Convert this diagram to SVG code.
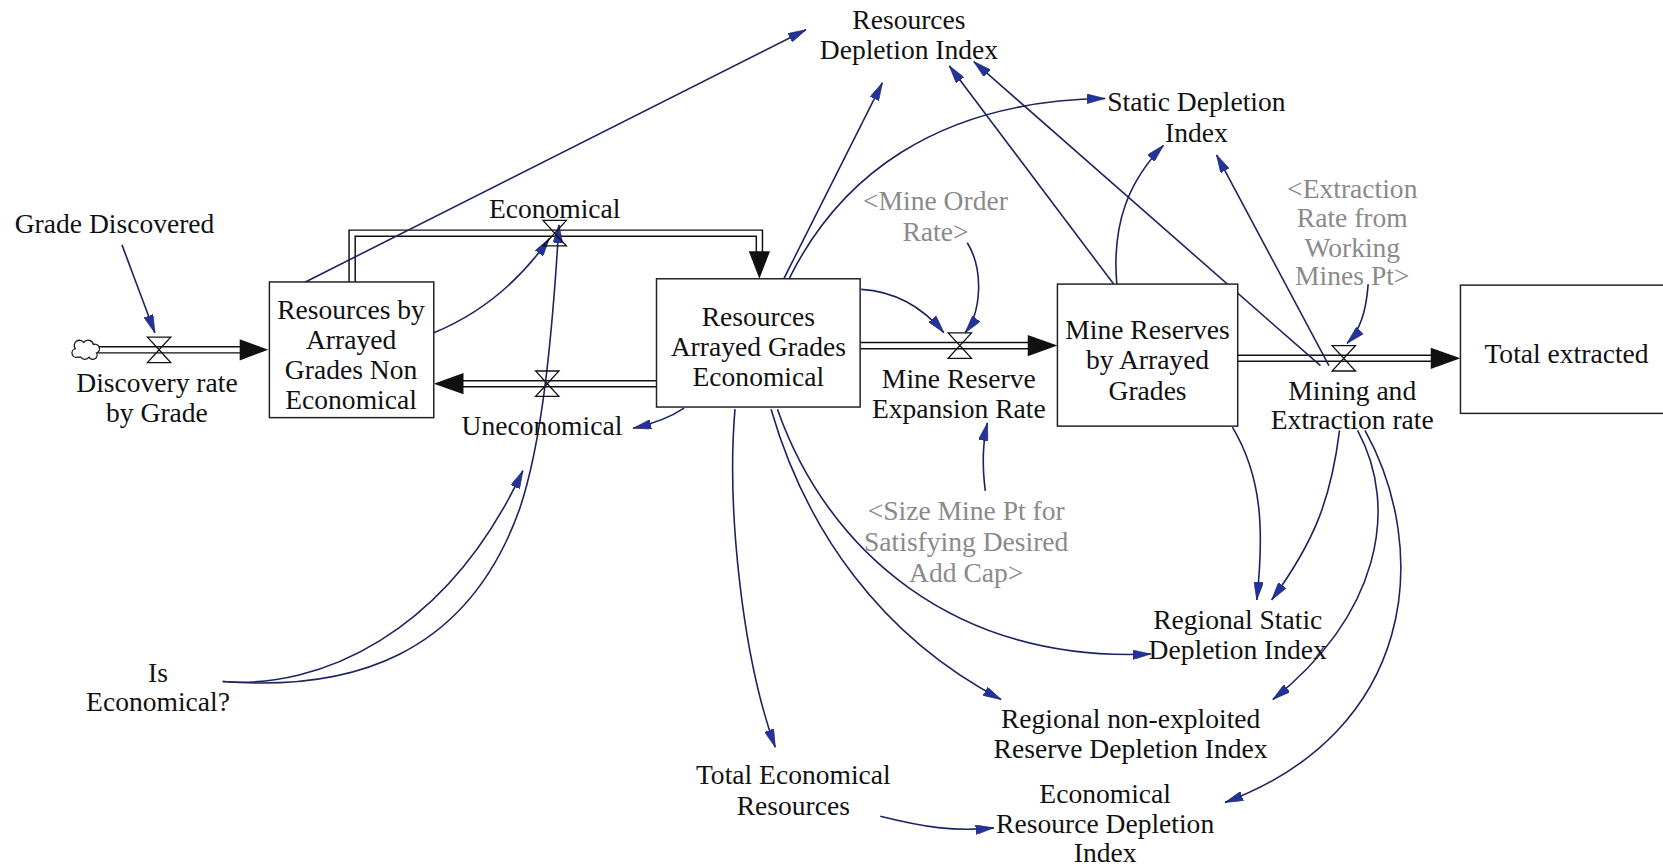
<svg xmlns="http://www.w3.org/2000/svg" width="1663" height="866" viewBox="0 0 1663 866">
<style>
.t{font-family:"Liberation Serif","Times New Roman",serif;font-size:26px;fill:#111;text-anchor:middle}
.g{fill:#8a8a8a}
.box{fill:#fff;stroke:#222;stroke-width:1.4}
.link{fill:none;stroke:#1b2461;stroke-width:1.5;marker-end:url(#ah)}
.po{fill:none;stroke:#111;stroke-width:7.2;stroke-linejoin:miter}
.pi{fill:none;stroke:#fff;stroke-width:4.4;stroke-linejoin:miter}
.fa{fill:#111}
.valve{fill:none;stroke:#111;stroke-width:1.2}
</style>
<defs>
<marker id="ah" markerUnits="userSpaceOnUse" viewBox="0 0 17 9" markerWidth="17" markerHeight="9" refX="17" refY="4.5" orient="auto">
<path d="M0 0 L17 4.5 L0 9 z" fill="#24339c" stroke="#1b2461" stroke-width="0.6"/>
</marker>
</defs>
<rect width="1663" height="866" fill="#fff"/>
<g transform="scale(1.0606,1.06)">
<g id="connectors">
<path class="po" d="M92 330 L227 330"/><path class="pi" d="M92 330 L228 330"/>
<polygon class="fa" points="226,320 253,330 226,340"/>
<path class="po" d="M332 266 L332 220 L716 220 L716 238"/><path class="pi" d="M332 266 L332 220 L716 220 L716 239"/>
<polygon class="fa" points="706,237 726,237 716,263"/>
<path class="po" d="M619 362 L436 362"/><path class="pi" d="M619 362 L435 362"/>
<polygon class="fa" points="437,352 409,362 437,372"/>
<path class="po" d="M811 326 L970 326"/><path class="pi" d="M811 326 L971 326"/>
<polygon class="fa" points="969,316 997,326 969,336"/>
<path class="po" d="M1167 338 L1350 338"/><path class="pi" d="M1167 338 L1351 338"/>
<polygon class="fa" points="1349,328 1377,338 1349,348"/>
<path class="link" d="M115 231 L146 314"/>
<path class="link" d="M280 270 L760 28"/>
<path class="link" d="M409 314 C455 295 490 265 518 225"/>
<path class="link" d="M210 643 C330 652 440 620 490 480 C510 420 520 330 527 212"/>
<path class="link" d="M210 643 C300 650 420 600 493 444"/>
<path class="link" d="M645 385 C630 395 615 400 597 404"/>
<path class="link" d="M739 263 L832 78"/>
<path class="link" d="M744 263 C790 170 880 95 1042 93"/>
<path class="link" d="M812 273 C845 275 870 290 890 314"/>
<path class="link" d="M912 229 C928 255 925 295 910 314"/>
<path class="link" d="M929 463 C926 440 926 420 931 399"/>
<path class="link" d="M693 386 C685 480 700 620 731 705"/>
<path class="link" d="M727 386 C760 500 830 600 944 660"/>
<path class="link" d="M733 386 C780 520 900 625 1085 617"/>
<path class="link" d="M830 770 C870 780 900 785 937 781"/>
<path class="link" d="M1050 268 L895 62"/>
<path class="link" d="M1053 268 C1048 210 1065 170 1097 137"/>
<path class="link" d="M1253 345 L1147 146"/>
<path class="link" d="M1245 345 L918 58"/>
<path class="link" d="M1290 268 C1288 295 1282 312 1270 324"/>
<path class="link" d="M1162 403 C1190 450 1192 500 1185 566"/>
<path class="link" d="M1263 406 C1255 470 1240 510 1199 566"/>
<path class="link" d="M1280 406 C1320 480 1300 580 1200 660"/>
<path class="link" d="M1287 406 C1350 520 1335 690 1155 757"/>
</g>
<g id="cloud"><path d="M73 337 a4 4 0 0 1 -2 -8 a5 5 0 0 1 8 -6 a5 5 0 0 1 9 2 a4 4 0 0 1 3 8 a4 4 0 0 1 -7 4 a5 5 0 0 1 -8 0 z" fill="#fff" stroke="#111" stroke-width="1.2"/></g>
<g id="discovery-rate"><path class="valve" d="M139 318 L161 318 L150 330 Z M139 342 L161 342 L150 330 Z"/><text class="t" x="148" y="370">Discovery rate</text><text class="t" x="148" y="398">by Grade</text></g>
<g id="economical-flow"><path class="valve" d="M512 208 L534 208 L523 220 Z M512 232 L534 232 L523 220 Z"/><text class="t" x="523" y="206">Economical</text></g>
<g id="uneconomical-flow"><path class="valve" d="M505 350 L527 350 L516 362 Z M505 374 L527 374 L516 362 Z"/><text class="t" x="511" y="410">Uneconomical</text></g>
<g id="expansion-rate"><path class="valve" d="M894 314 L916 314 L905 326 Z M894 338 L916 338 L905 326 Z"/><text class="t" x="904" y="366">Mine Reserve</text><text class="t" x="904" y="394">Expansion Rate</text></g>
<g id="mining-rate"><path class="valve" d="M1256 326 L1278 326 L1267 338 Z M1256 350 L1278 350 L1267 338 Z"/><text class="t" x="1275" y="377">Mining and</text><text class="t" x="1275" y="405">Extraction rate</text></g>
<g id="res-non-econ"><rect class="box" x="254" y="266" width="155" height="128"/><text class="t" x="331" y="301">Resources by</text><text class="t" x="331" y="329">Arrayed</text><text class="t" x="331" y="358">Grades Non</text><text class="t" x="331" y="386">Economical</text></g>
<g id="res-econ"><rect class="box" x="619" y="263" width="192" height="121"/><text class="t" x="715" y="308">Resources</text><text class="t" x="715" y="336">Arrayed Grades</text><text class="t" x="715" y="364">Economical</text></g>
<g id="mine-reserves"><rect class="box" x="997" y="268" width="170" height="134"/><text class="t" x="1082" y="320">Mine Reserves</text><text class="t" x="1082" y="348">by Arrayed</text><text class="t" x="1082" y="377">Grades</text></g>
<g id="total-extracted"><rect class="box" x="1377" y="269" width="230" height="121"/><text class="t" x="1477" y="342">Total extracted</text></g>
<g id="res-depletion"><text class="t" x="857" y="27">Resources</text><text class="t" x="857" y="56">Depletion Index</text></g>
<g id="static-depletion"><text class="t" x="1128" y="105">Static Depletion</text><text class="t" x="1128" y="134">Index</text></g>
<g id="grade-discovered"><text class="t" x="108" y="220">Grade Discovered</text></g>
<g id="mine-order-rate"><text class="t g" x="882" y="198">&lt;Mine Order</text><text class="t g" x="882" y="227">Rate&gt;</text></g>
<g id="extraction-rate-wm"><text class="t g" x="1275" y="187">&lt;Extraction</text><text class="t g" x="1275" y="214">Rate from</text><text class="t g" x="1275" y="242">Working</text><text class="t g" x="1275" y="269">Mines Pt&gt;</text></g>
<g id="size-mine"><text class="t g" x="911" y="491">&lt;Size Mine Pt for</text><text class="t g" x="911" y="520">Satisfying Desired</text><text class="t g" x="911" y="549">Add Cap&gt;</text></g>
<g id="regional-static"><text class="t" x="1167" y="593">Regional Static</text><text class="t" x="1167" y="622">Depletion Index</text></g>
<g id="is-economical"><text class="t" x="149" y="643">Is</text><text class="t" x="149" y="671">Economical?</text></g>
<g id="regional-nonexploited"><text class="t" x="1066" y="687">Regional non-exploited</text><text class="t" x="1066" y="715">Reserve Depletion Index</text></g>
<g id="total-econ-res"><text class="t" x="748" y="740">Total Economical</text><text class="t" x="748" y="769">Resources</text></g>
<g id="econ-res-depletion"><text class="t" x="1042" y="758">Economical</text><text class="t" x="1042" y="786">Resource Depletion</text><text class="t" x="1042" y="813">Index</text></g>
</g>
</svg>
